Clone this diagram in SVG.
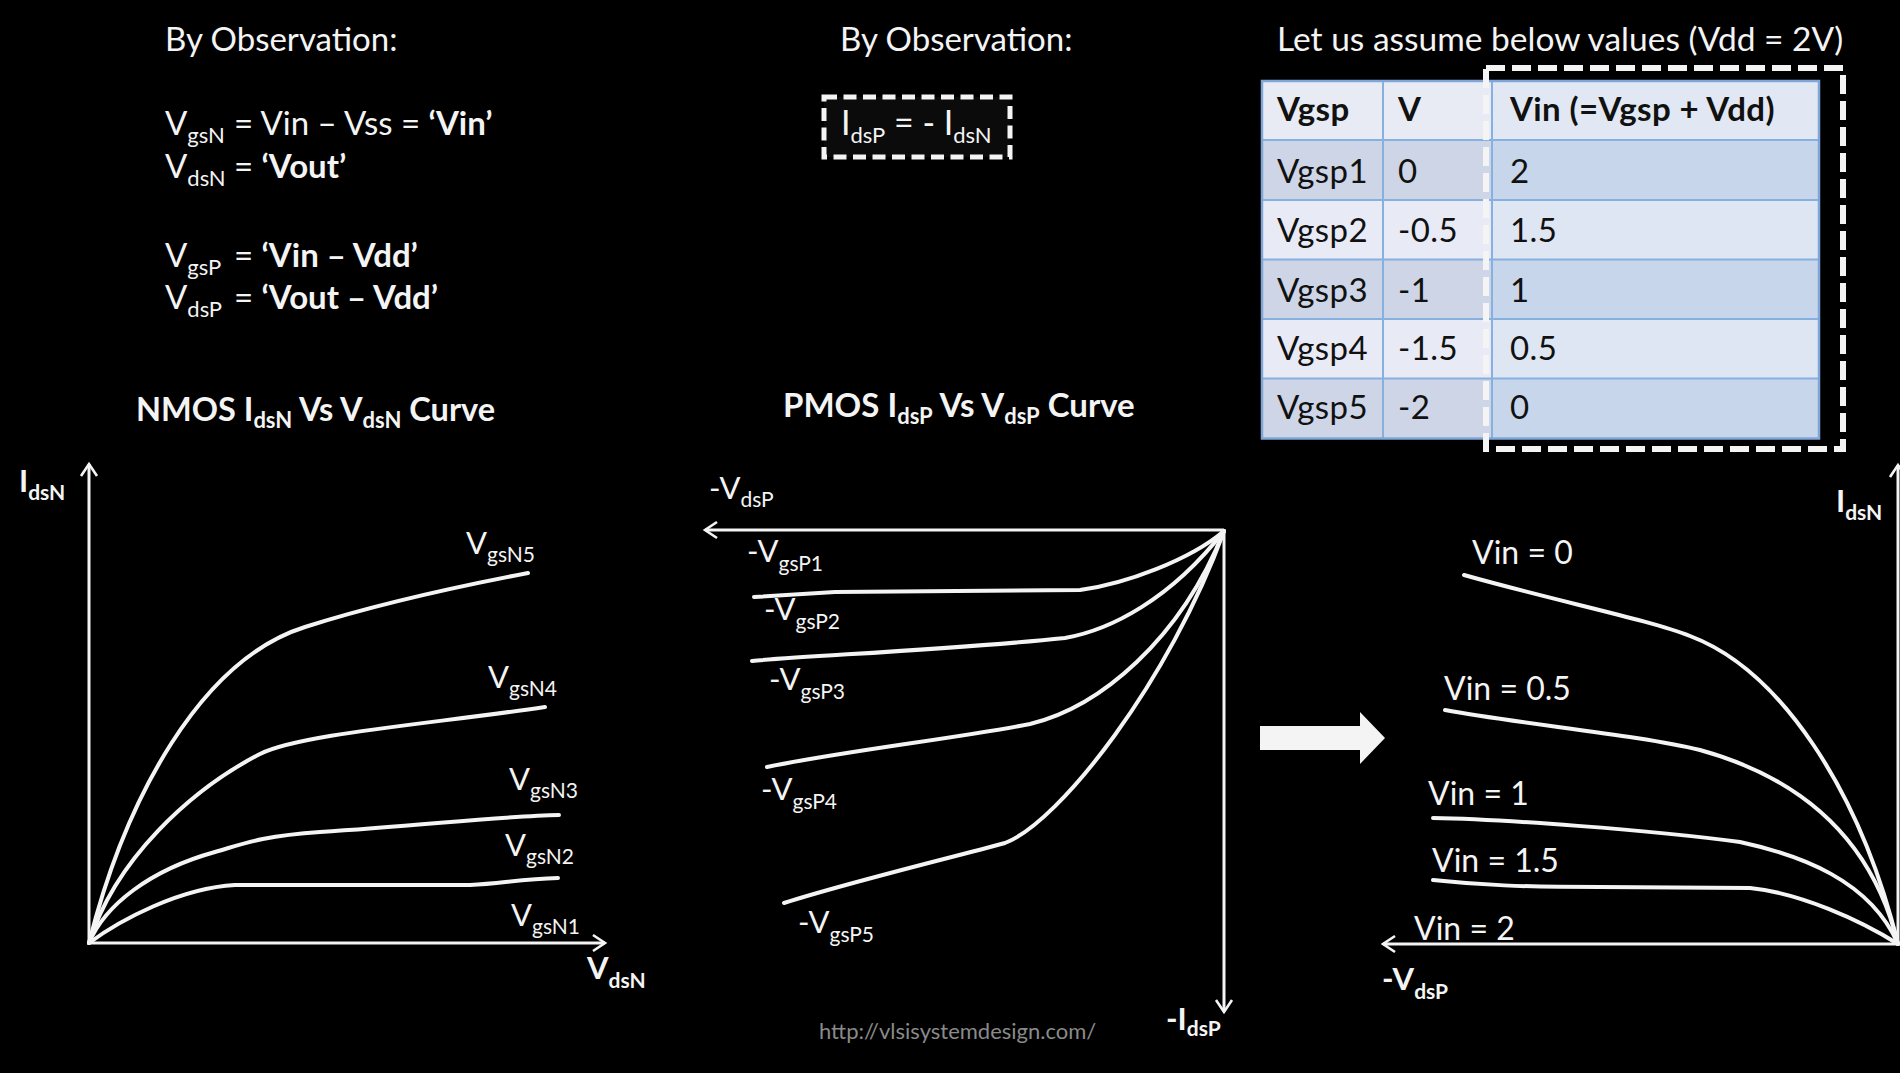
<svg xmlns="http://www.w3.org/2000/svg" width="1900" height="1073" viewBox="0 0 1900 1073">
<defs>
<style>
.t{font-family:Lato,"Liberation Sans",sans-serif;fill:#f4f4f4;font-size:33px}
.b{font-weight:700}
.s{font-size:22px}
.lab{font-family:Lato,"Liberation Sans",sans-serif;fill:#f4f4f4;font-size:31px}
.ls{font-size:21px}
.vin{font-family:Lato,"Liberation Sans",sans-serif;fill:#f4f4f4;font-size:32px}
.tb{font-family:Lato,"Liberation Sans",sans-serif;fill:#111;font-size:33px;letter-spacing:0.4px}
.ax{stroke:#f4f4f4;stroke-width:3;fill:none}
.cv{stroke:#f4f4f4;stroke-width:4;fill:none;stroke-linejoin:round;stroke-linecap:round}
.grid{stroke:#86b0e0;stroke-width:2;fill:none}
</style>
<marker id="arr" viewBox="0 0 14 18" refX="13" refY="9" markerWidth="14" markerHeight="18" orient="auto" markerUnits="userSpaceOnUse" overflow="visible">
<path d="M1,1 L13,9 L1,17" fill="none" stroke="#f4f4f4" stroke-width="2.6" stroke-linejoin="miter"/>
</marker>
</defs>
<rect x="0" y="0" width="1900" height="1073" fill="#000"/>

<g id="left-notes">
<text class="t" x="165" y="51">By Observation:</text>
<text class="t" x="165" y="135">V<tspan class="s" dy="8">gsN</tspan></text>
<text class="t" x="234" y="135">= Vin – Vss = <tspan class="b">‘Vin’</tspan></text>
<text class="t" x="165" y="178">V<tspan class="s" dy="8">dsN</tspan></text>
<text class="t" x="234" y="178">= <tspan class="b">‘Vout’</tspan></text>
<text class="t" x="165" y="267">V<tspan class="s" dy="8">gsP</tspan></text>
<text class="t" x="234" y="267">= <tspan class="b">‘Vin – Vdd’</tspan></text>
<text class="t" x="165" y="309">V<tspan class="s" dy="8">dsP</tspan></text>
<text class="t" x="234" y="309">= <tspan class="b">‘Vout – Vdd’</tspan></text>
</g>

<g id="mid-notes">
<text class="t" x="840" y="51">By Observation:</text>
<rect x="824" y="97" width="186" height="60" fill="#0b0b0b" stroke="#f4f4f4" stroke-width="5" stroke-dasharray="13 6.5"/>
<text class="t" x="841" y="135" style="font-size:34px">I<tspan style="font-size:22px" dy="8">dsP</tspan><tspan dy="-8"> = - I</tspan><tspan style="font-size:22px" dy="8">dsN</tspan></text>
</g>

<g id="table">
<text class="t" x="1277" y="51" style="font-size:33.5px">Let us assume below values (Vdd = 2V)</text>
<rect x="1262" y="81" width="230" height="59" fill="#e8ebf4"/>
<rect x="1492" y="81" width="327" height="59" fill="#e2e8f3"/>
<rect x="1262" y="140" width="230" height="60" fill="#cdd5e6"/>
<rect x="1492" y="140" width="327" height="60" fill="#c7d6ea"/>
<rect x="1262" y="200" width="230" height="59.5" fill="#e8ebf5"/>
<rect x="1492" y="200" width="327" height="59.5" fill="#dee6f3"/>
<rect x="1262" y="259.5" width="230" height="59.5" fill="#cdd5e6"/>
<rect x="1492" y="259.5" width="327" height="59.5" fill="#c7d6ea"/>
<rect x="1262" y="319" width="230" height="59.5" fill="#e8ebf5"/>
<rect x="1492" y="319" width="327" height="59.5" fill="#dee6f3"/>
<rect x="1262" y="378.5" width="230" height="60" fill="#cdd5e6"/>
<rect x="1492" y="378.5" width="327" height="60" fill="#c7d6ea"/>
<path class="grid" d="M1262,140 H1819 M1262,200 H1819 M1262,259.5 H1819 M1262,319 H1819 M1262,378.5 H1819 M1383,81 V438.5 M1492,81 V438.5"/>
<rect x="1262" y="81" width="557" height="357.5" fill="none" stroke="#7fa6d6" stroke-width="2.5"/>
<text class="tb b" x="1277" y="121">Vgsp</text>
<text class="tb b" x="1398" y="121">V</text>
<text class="tb b" x="1510" y="121">Vin (=Vgsp + Vdd)</text>
<text class="tb" x="1277" y="183">Vgsp1</text><text class="tb" x="1398" y="183">0</text><text class="tb" x="1510" y="183">2</text>
<text class="tb" x="1277" y="242">Vgsp2</text><text class="tb" x="1398" y="242">-0.5</text><text class="tb" x="1510" y="242">1.5</text>
<text class="tb" x="1277" y="302">Vgsp3</text><text class="tb" x="1398" y="302">-1</text><text class="tb" x="1510" y="302">1</text>
<text class="tb" x="1277" y="360">Vgsp4</text><text class="tb" x="1398" y="360">-1.5</text><text class="tb" x="1510" y="360">0.5</text>
<text class="tb" x="1277" y="419">Vgsp5</text><text class="tb" x="1398" y="419">-2</text><text class="tb" x="1510" y="419">0</text>
<rect x="1486" y="68" width="357" height="381" fill="none" stroke="#f4f4f4" stroke-width="6" stroke-dasharray="19 7"/>
</g>

<g id="nmos-graph">
<text class="t b" x="136" y="421" style="font-size:32.5px">NMOS I<tspan class="s" dy="7">dsN</tspan><tspan dy="-7"> Vs V</tspan><tspan class="s" dy="7">dsN</tspan><tspan dy="-7"> Curve</tspan></text>
<text class="lab b" x="19" y="492">I<tspan class="ls" dy="8">dsN</tspan></text>
<text class="lab b" x="587" y="979">V<tspan class="ls" dy="9">dsN</tspan></text>
<path class="cv" d="M89,943 C125,800 200,660 305,627 C380,603 460,586 528,573"/>
<path class="cv" d="M89,943 C115,860 190,790 260,754 C300,734 430,724 545,707"/>
<path class="cv" d="M89,943 C105,905 150,870 215,852 C240,845 260,836 320,832 C420,826 500,816 559,815"/>
<path class="cv" d="M89,943 C120,920 180,888 235,885 L470,885 C500,884 520,879 558,878"/>
<text class="lab" x="466" y="554">V<tspan class="ls" dy="8">gsN5</tspan></text>
<text class="lab" x="488" y="688">V<tspan class="ls" dy="8">gsN4</tspan></text>
<text class="lab" x="509" y="790">V<tspan class="ls" dy="8">gsN3</tspan></text>
<text class="lab" x="505" y="856">V<tspan class="ls" dy="8">gsN2</tspan></text>
<text class="lab" x="511" y="926">V<tspan class="ls" dy="8">gsN1</tspan></text>
</g>

<g id="pmos-graph">
<text class="t b" x="783" y="417">PMOS I<tspan class="s" dy="7">dsP</tspan><tspan dy="-7"> Vs V</tspan><tspan class="s" dy="7">dsP</tspan><tspan dy="-7"> Curve</tspan></text>
<text class="lab" x="709" y="499">-V<tspan class="ls" dy="8">dsP</tspan></text>
<text class="lab b" x="1166" y="1030">-I<tspan class="ls" dy="6">dsP</tspan></text>
<path class="cv" d="M754,597 L835,592 L1080,590 C1125,584 1190,560 1224,531"/>
<path class="cv" d="M752,661 C800,656 950,650 1065,638 C1110,630 1170,600 1224,531"/>
<path class="cv" d="M767,767 C850,750 960,738 1030,724 C1100,707 1180,640 1224,531"/>
<path class="cv" d="M784,903 C850,882 950,858 1005,843 C1060,822 1170,680 1224,531"/>
<text class="lab" x="747" y="562">-V<tspan class="ls" dy="9">gsP1</tspan></text>
<text class="lab" x="764" y="620">-V<tspan class="ls" dy="9">gsP2</tspan></text>
<text class="lab" x="769" y="690">-V<tspan class="ls" dy="9">gsP3</tspan></text>
<text class="lab" x="761" y="800">-V<tspan class="ls" dy="9">gsP4</tspan></text>
<text class="lab" x="798" y="933">-V<tspan class="ls" dy="9">gsP5</tspan></text>
<text x="819" y="1039" style="font-family:Lato,'Liberation Sans',sans-serif;font-size:22px;fill:#8a8a8a">http://vlsisystemdesign.com/</text>
</g>

<g id="arrow">
<polygon points="1260,726 1360,726 1360,712 1385,738 1360,764 1360,750 1260,750" fill="#f4f4f4"/>
</g>

<g id="vtc-graph">
<text class="lab b" x="1836" y="512">I<tspan class="ls" dy="8">dsN</tspan></text>
<text class="lab b" x="1382" y="990">-V<tspan class="ls" dy="9">dsP</tspan></text>
<path class="cv" d="M1464,575 C1560,602 1650,620 1690,636 C1780,670 1860,790 1898,944"/>
<path class="cv" d="M1445,710 C1520,724 1640,735 1700,750 C1790,775 1870,830 1898,944"/>
<path class="cv" d="M1433,818 C1500,819 1650,830 1740,842 C1800,855 1870,880 1898,944"/>
<path class="cv" d="M1433,880 C1480,885 1520,887 1600,887 L1750,888 C1800,893 1860,920 1898,944"/>
<text class="vin" x="1472" y="564">Vin = 0</text>
<text class="vin" x="1444" y="700">Vin = 0.5</text>
<text class="vin" x="1428" y="805">Vin = 1</text>
<text class="vin" x="1432" y="872">Vin = 1.5</text>
<text class="vin" x="1414" y="940">Vin = 2</text>
</g>

<g id="connectors">
<line class="ax" x1="89" y1="943" x2="89" y2="464" marker-end="url(#arr)"/>
<line class="ax" x1="89" y1="943" x2="605" y2="943" marker-end="url(#arr)"/>
<line class="ax" x1="1224" y1="530" x2="705" y2="530" marker-end="url(#arr)"/>
<line class="ax" x1="1224" y1="530" x2="1224" y2="1012" marker-end="url(#arr)"/>
<line class="ax" x1="1898" y1="944" x2="1383" y2="944" marker-end="url(#arr)"/>
<line class="ax" x1="1898" y1="944" x2="1898" y2="465" marker-end="url(#arr)"/>
</g>
</svg>
